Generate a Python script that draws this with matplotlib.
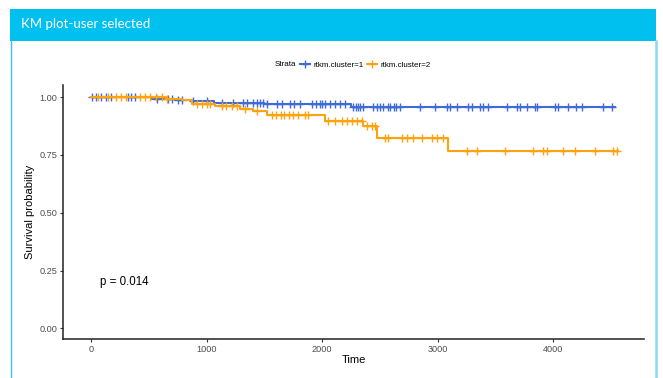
import numpy as np
import matplotlib.pyplot as plt
from matplotlib.patches import Rectangle
from matplotlib.lines import Line2D

# survival steps (time of drop, survival after drop) and censoring times
c1_times = [0, 530, 730, 870, 1060, 1500, 2250, 4530]
c1_surv = [1.0, 0.992, 0.986, 0.983, 0.976, 0.971, 0.955, 0.955]
c1_censor = [10, 40, 90, 130, 170, 320, 350, 380, 570, 665, 700, 750, 790, 880, 1000,
             1130, 1230, 1315, 1350, 1400, 1435, 1460, 1490, 1520, 1610, 1650, 1720,
             1760, 1810, 1910, 1950, 1980, 2000, 2025, 2070, 2110, 2150, 2200, 2270,
             2290, 2310, 2330, 2350, 2440, 2470, 2500, 2530, 2570, 2590, 2620, 2640,
             2670, 2850, 2975, 3080, 3105, 3165, 3260, 3295, 3365, 3390, 3435, 3600,
             3685, 3710, 3770, 3840, 3860, 4015, 4040, 4125, 4200, 4245, 4430, 4505]

c2_times = [0, 650, 790, 870, 1070, 1290, 1400, 1520, 2025, 2350, 2475, 3090, 4560]
c2_surv = [1.0, 0.993, 0.985, 0.972, 0.960, 0.949, 0.938, 0.924, 0.898, 0.873, 0.822,
           0.765, 0.765]
c2_censor = [60, 150, 220, 260, 300, 420, 470, 510, 560, 615, 660, 920, 960, 1000,
             1030, 1130, 1170, 1220, 1260, 1330, 1440, 1570, 1600, 1640, 1670, 1710,
             1750, 1790, 1850, 1880, 2050, 2110, 2170, 2215, 2260, 2300, 2345, 2385,
             2430, 2460, 2545, 2570, 2690, 2735, 2785, 2860, 2950, 2990, 3045, 3250,
             3340, 3580, 3825, 3910, 3945, 4085, 4185, 4360, 4515, 4550]

strata = ['rtkm.cluster=1', 'rtkm.cluster=2']
colors = ['#3f6bd8', '#ffa20f']
p_text = 'p = 0.014'


def surv_at(times, surv, t):
    idx = np.searchsorted(times, t, side='right') - 1
    return np.array(surv)[idx]


fig = plt.figure(figsize=(6.63, 3.78), dpi=100)
W, H = 663, 378

# box header and borders
fig.patches.append(Rectangle((10 / W, 1 - 41 / H), 646 / W, 32 / H, transform=fig.transFigure,
                             facecolor='#00c0ef', edgecolor='none'))
fig.add_artist(Line2D([11 / W, 11 / W], [0, 1 - 41 / H], transform=fig.transFigure,
                      color='#3cc3ec', lw=1.0))
fig.add_artist(Line2D([656 / W, 656 / W], [0, 1 - 41 / H], transform=fig.transFigure,
                      color='#8ad8f3', lw=1.8))
fig.text(21 / W, 1 - 24 / H, 'KM plot-user selected', color='white', fontsize=9.5,
         family='Lato', va='center', ha='left')

ax = fig.add_axes([63 / W, 39 / H, (644 - 63) / W, (339 - 85) / H])

for times, surv, cens, col in [(c1_times, c1_surv, c1_censor, colors[0]),
                               (c2_times, c2_surv, c2_censor, colors[1])]:
    ax.step(times, surv, where='post', color=col, lw=1.5)
    ax.plot(cens, surv_at(times, surv, cens), ls='none', marker='+', color=col,
            ms=5.5, mew=1.0)

ax.text(80, 0.2, p_text, fontsize=8.3, family='Liberation Sans', va='center', ha='left')

ax.set_xlim(-242, 4784)
ax.set_ylim(-0.046, 1.052)
ax.set_xticks([0, 1000, 2000, 3000, 4000])
ax.set_yticks([0, 0.25, 0.5, 0.75, 1.0])
ax.set_yticklabels(['%.2f' % v for v in [0, 0.25, 0.5, 0.75, 1.0]])
for s in ['top', 'right']:
    ax.spines[s].set_visible(False)
for s in ['left', 'bottom']:
    ax.spines[s].set_linewidth(1.1)
    ax.spines[s].set_color('#222222')
ax.tick_params(length=2.5, width=0.8, color='#333333', labelsize=6.6, labelcolor='#4d4d4d',
               pad=1.5)
for lab in ax.get_xticklabels() + ax.get_yticklabels():
    lab.set_family('Liberation Sans')
ax.set_xlabel('Time', fontsize=8, family='Liberation Sans', labelpad=1)
ax.set_ylabel('Survival probability', fontsize=8, family='Liberation Sans', labelpad=3)

handles = [Line2D([], [], color=c, lw=1.5, marker='+', ms=5.5, mew=1.0) for c in colors]
fig.text(296 / W, 1 - 65 / H, 'Strata', fontsize=5.8, family='Liberation Sans',
         va='center', ha='right')
fig.legend(handles, strata, loc='center left', bbox_to_anchor=(300 / W, 1 - 65 / H), ncol=2,
           frameon=False, prop={'family': 'Liberation Sans', 'size': 5.8}, handlelength=1.3,
           handletextpad=0.35, columnspacing=0.4, borderaxespad=0, borderpad=0)

fig.savefig('out.png', dpi=100)
